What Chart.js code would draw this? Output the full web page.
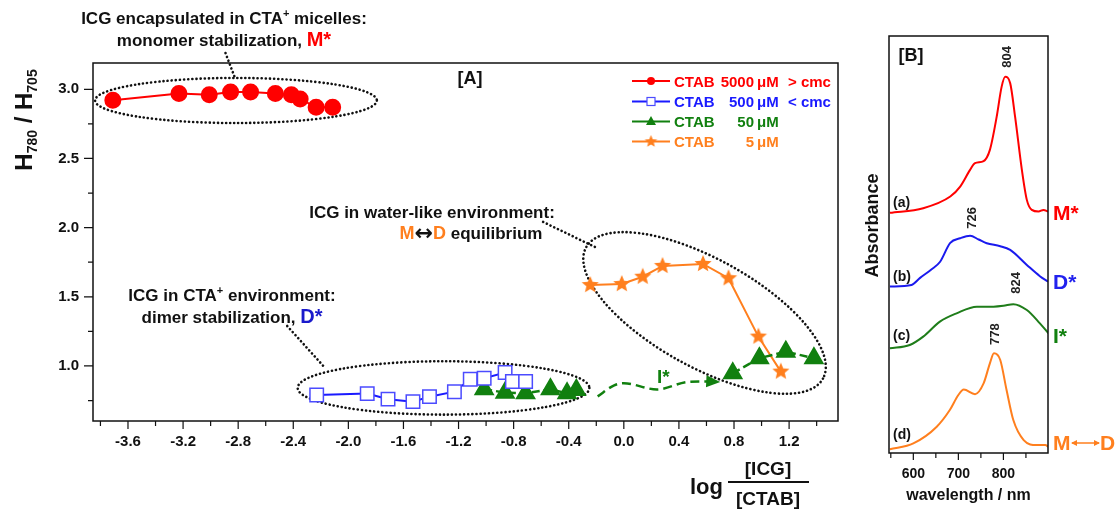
<!DOCTYPE html>
<html>
<head>
<meta charset="utf-8">
<script src="https://cdn.jsdelivr.net/npm/chart.js@4.4.0/dist/chart.umd.min.js"></script>
<style>
  body { margin: 0; background: #fff; }
  #wrap { position: relative; width: 1118px; height: 518px; overflow: hidden; }
  #cA { position: absolute; left: 0; top: 0; }
  #cB { position: absolute; left: 850px; top: 0; }
</style>
</head>
<body>
<div id="wrap">
  <canvas id="cA" width="850" height="518"></canvas>
  <canvas id="cB" width="268" height="518"></canvas>
</div>
<script>
// ---- panel A data: log([ICG]/[CTAB]) vs H780/H705 ----
const redX = [-3.71, -3.23, -3.01, -2.855, -2.71, -2.53, -2.414, -2.35, -2.234, -2.114];
const redY = [2.92, 2.97, 2.96, 2.98, 2.98, 2.97, 2.96, 2.93, 2.87, 2.87];
const blueX = [-2.23, -1.863, -1.712, -1.531, -1.411, -1.23, -1.115, -1.014, -0.862, -0.809, -0.713];
const blueY = [0.79, 0.80, 0.76, 0.742, 0.778, 0.814, 0.904, 0.911, 0.952, 0.887, 0.887];
const greenLowX = [-1.014, -0.862, -0.713, -0.533, -0.412, -0.345];
const greenLowY = [0.832, 0.807, 0.802, 0.832, 0.802, 0.827];
const greenHighX = [0.791, 0.984, 1.176, 1.38];
const greenHighY = [0.947, 1.056, 1.103, 1.056];
const orangeX = [-0.244, -0.015, 0.137, 0.281, 0.575, 0.76, 0.977, 1.14];
const orangeY = [1.585, 1.592, 1.645, 1.723, 1.737, 1.634, 1.212, 0.959];
// dashed "I*" transition arrow
const arrowX = [-0.19, -0.07, 0.0, 0.24, 0.47, 0.61];
const arrowY = [0.78, 0.86, 0.875, 0.83, 0.885, 0.888];
const arrowTip = [0.70, 0.884];

const xTicks = [-3.6, -3.2, -2.8, -2.4, -2.0, -1.6, -1.2, -0.8, -0.4, 0.0, 0.4, 0.8, 1.2];
const xMinor = [-3.8, -3.4, -3.0, -2.6, -2.2, -1.8, -1.4, -1.0, -0.6, -0.2, 0.2, 0.6, 1.0, 1.4];
const yTicks = [1.0, 1.5, 2.0, 2.5, 3.0];
const yMinor = [0.75, 1.25, 1.75, 2.25, 2.75];

const legendNums = ['5000', '500', '50', '5'];
const legendTails = ['> cmc', '< cmc', '', ''];

// ---- panel B data: absorption spectra (offset) ----
const wlA = [548, 622, 682, 704, 726, 737, 756, 770, 785, 796, 804, 815, 826, 841, 852, 863, 878, 889, 899];
const absA = [57.6, 58.7, 61.5, 63.9, 67.9, 69.5, 70.0, 72.7, 80.6, 87.8, 90.2, 88.7, 80.6, 67.9, 60.7, 58.3, 57.9, 58.3, 57.9];
const wlB = [548, 596, 615, 640, 659, 682, 704, 726, 745, 763, 793, 815, 852, 881, 899];
const absB = [39.9, 40.3, 42.0, 44.0, 45.8, 50.4, 51.5, 52.1, 51.2, 50.3, 49.6, 48.7, 45.1, 42.4, 41.1];
const wlC = [548, 592, 622, 659, 696, 741, 778, 800, 822, 852, 881, 900];
const absC = [25.1, 25.9, 27.9, 31.5, 33.5, 35.1, 35.1, 35.3, 35.7, 34.3, 31.1, 28.7];
const wlD = [548, 600, 652, 681, 700, 712, 737, 756, 770, 779, 793, 807, 822, 845, 874, 893, 900];
const absD = [0.9, 2.3, 6.3, 10.3, 13.9, 15.2, 14.1, 16.7, 21.5, 23.9, 22.3, 15.1, 7.9, 3.1, 1.9, 1.9, 1.5];
const peakWl = [804, 726, 824, 778];
const peakY = [95.0, 56.4, 40.8, 28.5];
const bTicks = [600, 700, 800];
const bMinor = [550, 650, 750, 850];

const FF = "Arial, 'Liberation Sans', sans-serif";
const RED = '#ff0000', BLUE = '#1a1aff', SQ = '#4b4bff', GREEN = '#11800f', ORANGE = '#ff7f1e';

function pts(xs, ys) { return xs.map((x, i) => ({ x: x, y: ys[i] })); }

function starCanvas(r, color) {
  const s = Math.ceil(r * 2 + 2);
  const c = document.createElement('canvas');
  c.width = s; c.height = s;
  const g = c.getContext('2d');
  g.beginPath();
  for (let i = 0; i < 10; i++) {
    const rr = i % 2 ? r * 0.45 : r;
    const a = -Math.PI / 2 + i * Math.PI / 5;
    g.lineTo(s / 2 + rr * Math.cos(a), s / 2 + rr * Math.sin(a));
  }
  g.closePath();
  g.fillStyle = color;
  g.fill();
  return c;
}
const star = starCanvas(9, ORANGE);
const starSmall = starCanvas(6.5, ORANGE);

function rich(ctx, segs, x, y, align) {
  let w = 0;
  segs.forEach(s => { ctx.font = s.f; w += ctx.measureText(s.t).width; });
  let cx = align === 'center' ? x - w / 2 : (align === 'right' ? x - w : x);
  ctx.textAlign = 'left';
  ctx.textBaseline = 'alphabetic';
  segs.forEach(s => {
    ctx.font = s.f;
    ctx.fillStyle = s.c || '#111';
    ctx.fillText(s.t, cx, y + (s.dy || 0));
    cx += ctx.measureText(s.t).width;
  });
}

function dotted(ctx) {
  ctx.strokeStyle = '#111';
  ctx.lineWidth = 2.6;
  ctx.lineCap = 'round';
  ctx.setLineDash([0.1, 4]);
}

const ellipses = [
  { x: -2.816, y: 2.919, rx: 1.023, ry: 0.163, rot: 0 },
  { x: -1.309, y: 0.841, rx: 1.059, ry: 0.193, rot: 0 },
  { x: 0.586, y: 1.383, rx: 0.983, ry: 0.39, rot: 29 }
];
const leaders = [
  [-2.892, 3.262, -2.82, 3.074],
  [-2.444, 1.289, -2.169, 0.986],
  [-0.586, 2.041, -0.21, 1.86]
];

const b17 = 'bold 17px ' + FF, sup = 'bold 11px ' + FF;

const annoA = {
  id: 'annoA',
  beforeDatasetsDraw(chart) {
    const ctx = chart.ctx, xs = chart.scales.x, ys = chart.scales.y;
    const ux = xs.getPixelForValue(1) - xs.getPixelForValue(0);
    const uy = ys.getPixelForValue(0) - ys.getPixelForValue(1);
    ctx.save();
    dotted(ctx);
    ellipses.forEach(e => {
      ctx.beginPath();
      ctx.ellipse(xs.getPixelForValue(e.x), ys.getPixelForValue(e.y), e.rx * ux, e.ry * uy, e.rot * Math.PI / 180, 0, Math.PI * 2);
      ctx.stroke();
    });
    leaders.forEach(l => {
      ctx.beginPath();
      ctx.moveTo(xs.getPixelForValue(l[0]), ys.getPixelForValue(l[1]));
      ctx.lineTo(xs.getPixelForValue(l[2]), ys.getPixelForValue(l[3]));
      ctx.stroke();
    });
    ctx.restore();
  },
  afterDraw(chart) {
    const ctx = chart.ctx, xs = chart.scales.x, ys = chart.scales.y, a = chart.chartArea;
    ctx.save();
    // arrow head of the dashed I* path
    const bx = xs.getPixelForValue(arrowX[arrowX.length - 1]), by = ys.getPixelForValue(arrowY[arrowY.length - 1]);
    const tx = xs.getPixelForValue(arrowTip[0]), ty = ys.getPixelForValue(arrowTip[1]);
    const ang = Math.atan2(ty - by, tx - bx);
    ctx.fillStyle = GREEN;
    ctx.beginPath();
    ctx.moveTo(tx, ty);
    ctx.lineTo(tx - 14 * Math.cos(ang) + 6 * Math.sin(ang), ty - 14 * Math.sin(ang) - 6 * Math.cos(ang));
    ctx.lineTo(tx - 14 * Math.cos(ang) - 6 * Math.sin(ang), ty - 14 * Math.sin(ang) + 6 * Math.cos(ang));
    ctx.closePath();
    ctx.fill();

    // frame + ticks
    ctx.strokeStyle = '#111';
    ctx.lineWidth = 1.5;
    ctx.setLineDash([]);
    ctx.strokeRect(a.left, a.top, a.right - a.left, a.bottom - a.top);
    ctx.lineWidth = 1.2;
    ctx.beginPath();
    xTicks.forEach(v => { const p = xs.getPixelForValue(v); ctx.moveTo(p, a.bottom); ctx.lineTo(p, a.bottom + 8); });
    xMinor.forEach(v => { const p = xs.getPixelForValue(v); ctx.moveTo(p, a.bottom); ctx.lineTo(p, a.bottom + 5); });
    yTicks.forEach(v => { const p = ys.getPixelForValue(v); ctx.moveTo(a.left, p); ctx.lineTo(a.left - 9, p); });
    yMinor.forEach(v => { const p = ys.getPixelForValue(v); ctx.moveTo(a.left, p); ctx.lineTo(a.left - 5, p); });
    ctx.stroke();

    // y title H780 / H705
    ctx.save();
    ctx.translate(32, 120);
    ctx.rotate(-Math.PI / 2);
    const hf = 'bold 24px ' + FF, sf = 'bold 14px ' + FF;
    rich(ctx, [{ t: 'H', f: hf }, { t: '780', f: sf, dy: 5 }, { t: ' / H', f: hf }, { t: '705', f: sf, dy: 5 }], 0, 0, 'center');
    ctx.restore();

    // x title log [ICG]/[CTAB]
    rich(ctx, [{ t: 'log', f: 'bold 22px ' + FF }], 690, 494, 'left');
    ctx.font = 'bold 19px ' + FF;
    ctx.textAlign = 'center';
    ctx.fillStyle = '#111';
    ctx.fillText('[ICG]', 768, 475);
    ctx.fillText('[CTAB]', 768, 505);
    ctx.fillRect(728, 481, 81, 2);

    // panel label
    ctx.font = 'bold 18px ' + FF;
    ctx.textAlign = 'center';
    ctx.fillText('[A]', 470, 84);

    // legend
    const lcol = [RED, BLUE, GREEN, ORANGE];
    const lyy = [81, 101.5, 121.5, 141.5];
    lyy.forEach((y, i) => {
      ctx.strokeStyle = lcol[i];
      ctx.lineWidth = 2;
      ctx.beginPath(); ctx.moveTo(632, y); ctx.lineTo(670, y); ctx.stroke();
      ctx.fillStyle = lcol[i];
      if (i === 0) { ctx.beginPath(); ctx.arc(651, y, 4, 0, Math.PI * 2); ctx.fill(); }
      if (i === 1) { ctx.fillStyle = '#fff'; ctx.fillRect(647, y - 4, 8, 8); ctx.strokeStyle = SQ; ctx.lineWidth = 1.2; ctx.strokeRect(647, y - 4, 8, 8); }
      if (i === 2) { ctx.beginPath(); ctx.moveTo(651, y - 5.5); ctx.lineTo(656, y + 3.5); ctx.lineTo(646, y + 3.5); ctx.closePath(); ctx.fill(); }
      if (i === 3) { ctx.drawImage(starSmall, 651 - starSmall.width / 2, y - starSmall.height / 2); }
      const f = 'bold 15px ' + FF;
      rich(ctx, [{ t: 'CTAB', f: f, c: lcol[i] }], 674, y + 5.5, 'left');
      rich(ctx, [{ t: legendNums[i], f: f, c: lcol[i] }], 754, y + 5.5, 'right');
      rich(ctx, [{ t: '\u03bcM', f: f, c: lcol[i] }], 757, y + 5.5, 'left');
      if (legendTails[i]) rich(ctx, [{ t: legendTails[i], f: f, c: lcol[i] }], 788, y + 5.5, 'left');
    });

    // annotations
    rich(ctx, [{ t: 'ICG encapsulated in CTA', f: b17 }, { t: '+', f: sup, dy: -7 }, { t: ' micelles:', f: b17 }], 224, 23.5, 'center');
    rich(ctx, [{ t: 'monomer stabilization, ', f: b17 }, { t: 'M*', f: 'bold 20px ' + FF, c: RED }], 224, 46, 'center');
    rich(ctx, [{ t: 'ICG in CTA', f: b17 }, { t: '+', f: sup, dy: -7 }, { t: ' environment:', f: b17 }], 232, 300.5, 'center');
    rich(ctx, [{ t: 'dimer stabilization, ', f: b17 }, { t: 'D*', f: 'bold 20px ' + FF, c: '#1a1acc' }], 232, 323, 'center');
    rich(ctx, [{ t: 'ICG in water-like environment:', f: b17 }], 432, 218, 'center');
    rich(ctx, [{ t: 'M', f: 'bold 18px ' + FF, c: ORANGE }, { t: '\u2194', f: "bold 22px 'DejaVu Sans', sans-serif", dy: 1 }, { t: 'D', f: 'bold 18px ' + FF, c: ORANGE }, { t: ' equilibrium', f: b17 }], 471, 239, 'center');
    rich(ctx, [{ t: 'I*', f: 'bold 19px ' + FF, c: GREEN }], 657, 383, 'left');
    ctx.restore();
  }
};

const tickFont = { family: FF, size: 15, weight: 'bold' };

new Chart(document.getElementById('cA'), {
  type: 'scatter',
  data: {
    datasets: [
      { data: pts(redX, redY), showLine: true, borderColor: RED, borderWidth: 2, pointStyle: 'circle', pointRadius: 7.5, pointBackgroundColor: RED, pointBorderColor: RED },
      { data: pts(blueX, blueY), showLine: true, borderColor: BLUE, borderWidth: 2, pointStyle: 'rect', pointRadius: 9.5, pointBackgroundColor: '#fff', pointBorderColor: SQ, pointBorderWidth: 1.5 },
      { data: pts(greenLowX, greenLowY).concat([{ x: 0.2, y: null }], pts(greenHighX, greenHighY)), showLine: true, spanGaps: false, borderColor: GREEN, borderWidth: 2.5, borderDash: [8, 4], pointStyle: 'triangle', pointRadius: 9.5, pointBackgroundColor: GREEN, pointBorderColor: GREEN },
      { data: pts(orangeX, orangeY), showLine: true, borderColor: ORANGE, borderWidth: 2, pointStyle: star, pointRadius: 9 },
      { data: pts(arrowX, arrowY), showLine: true, borderColor: GREEN, borderWidth: 2.5, borderDash: [9, 5], pointRadius: 0, cubicInterpolationMode: 'monotone' }
    ]
  },
  options: {
    responsive: false,
    animation: false,
    layout: { padding: { top: 63, right: 9, left: 0, bottom: 0 } },
    plugins: { legend: { display: false }, tooltip: { enabled: false } },
    scales: {
      x: {
        type: 'linear', min: -3.854, max: 1.555,
        grid: { display: false, drawTicks: false }, border: { display: false },
        afterBuildTicks: s => { s.ticks = xTicks.map(v => ({ value: v })); },
        afterFit: s => { s.height = 97; },
        ticks: { font: tickFont, color: '#111', padding: 12, maxRotation: 0, autoSkip: false, callback: v => v.toFixed(1) }
      },
      y: {
        type: 'linear', min: 0.602, max: 3.19,
        grid: { display: false, drawTicks: false }, border: { display: false },
        afterBuildTicks: s => { s.ticks = yTicks.map(v => ({ value: v })); },
        afterFit: s => { s.width = 93; },
        ticks: { font: tickFont, color: '#111', padding: 14, callback: v => v.toFixed(1) }
      }
    }
  },
  plugins: [annoA]
});

// ---- panel B ----
const annoB = {
  id: 'annoB',
  afterDraw(chart) {
    const ctx = chart.ctx, xs = chart.scales.x, ys = chart.scales.y, a = chart.chartArea;
    ctx.save();
    ctx.strokeStyle = '#111';
    ctx.lineWidth = 1.5;
    ctx.strokeRect(a.left, a.top, a.right - a.left, a.bottom - a.top);
    ctx.lineWidth = 1.2;
    ctx.beginPath();
    bTicks.forEach(v => { const p = xs.getPixelForValue(v); ctx.moveTo(p, a.bottom); ctx.lineTo(p, a.bottom + 7); });
    bMinor.forEach(v => { const p = xs.getPixelForValue(v); ctx.moveTo(p, a.bottom); ctx.lineTo(p, a.bottom + 5); });
    ctx.stroke();

    ctx.fillStyle = '#111';
    ctx.textAlign = 'center';
    ctx.font = 'bold 16px ' + FF;
    ctx.fillText('wavelength / nm', (a.left + a.right) / 2, 500);
    ctx.font = 'bold 18px ' + FF;
    ctx.fillText('[B]', 61, 61);

    ctx.save();
    ctx.translate(28, 225.5);
    ctx.rotate(-Math.PI / 2);
    ctx.font = 'bold 18px ' + FF;
    ctx.fillText('Absorbance', 0, 0);
    ctx.restore();

    // peak labels
    ctx.font = 'bold 13px ' + FF;
    peakWl.forEach((w, i) => {
      ctx.save();
      ctx.translate(xs.getPixelForValue(w) + 5.5, ys.getPixelForValue(peakY[i]));
      ctx.rotate(-Math.PI / 2);
      ctx.fillStyle = '#222';
      ctx.fillText(String(w), 0, 0);
      ctx.restore();
    });

    // curve tags
    ctx.textAlign = 'left';
    ctx.font = 'bold 14px ' + FF;
    ctx.fillStyle = '#111';
    ctx.fillText('(a)', 43, 207);
    ctx.fillText('(b)', 43, 281);
    ctx.fillText('(c)', 43, 340);
    ctx.fillText('(d)', 43, 439);
    const rf = 'bold 21px ' + FF;
    rich(ctx, [{ t: 'M*', f: rf, c: RED }], 203, 220, 'left');
    rich(ctx, [{ t: 'D*', f: rf, c: '#2222ee' }], 203, 289, 'left');
    rich(ctx, [{ t: 'I*', f: rf, c: GREEN }], 203, 343, 'left');
    rich(ctx, [{ t: 'M', f: rf, c: ORANGE }], 203, 450, 'left');
    rich(ctx, [{ t: 'D', f: rf, c: ORANGE }], 250, 450, 'left');
    // double-headed arrow between M and D
    ctx.strokeStyle = ORANGE;
    ctx.fillStyle = ORANGE;
    ctx.lineWidth = 1.5;
    ctx.beginPath(); ctx.moveTo(222, 443); ctx.lineTo(249, 443); ctx.stroke();
    ctx.beginPath(); ctx.moveTo(221, 443); ctx.lineTo(227, 440); ctx.lineTo(227, 446); ctx.closePath(); ctx.fill();
    ctx.beginPath(); ctx.moveTo(250, 443); ctx.lineTo(244, 440); ctx.lineTo(244, 446); ctx.closePath(); ctx.fill();
    ctx.restore();
  }
};

function spec(xs, ys, color) {
  return { data: pts(xs, ys), showLine: true, borderColor: color, borderWidth: 2, pointRadius: 0, cubicInterpolationMode: 'monotone' };
}

new Chart(document.getElementById('cB'), {
  type: 'scatter',
  data: {
    datasets: [
      spec(wlA, absA, RED),
      spec(wlB, absB, '#1a1aee'),
      spec(wlC, absC, '#1f7d1a'),
      spec(wlD, absD, ORANGE)
    ]
  },
  options: {
    responsive: false,
    animation: false,
    layout: { padding: { top: 36, left: 39, right: 70, bottom: 0 } },
    plugins: { legend: { display: false }, tooltip: { enabled: false } },
    scales: {
      x: {
        type: 'linear', min: 546, max: 899,
        grid: { display: false, drawTicks: false }, border: { display: false },
        afterBuildTicks: s => { s.ticks = bTicks.map(v => ({ value: v })); },
        afterFit: s => { s.height = 65; },
        ticks: { font: { family: FF, size: 14, weight: 'bold' }, color: '#111', padding: 13, maxRotation: 0, autoSkip: false }
      },
      y: { type: 'linear', min: 0, max: 100, display: false }
    }
  },
  plugins: [annoB]
});
</script>
</body>
</html>
